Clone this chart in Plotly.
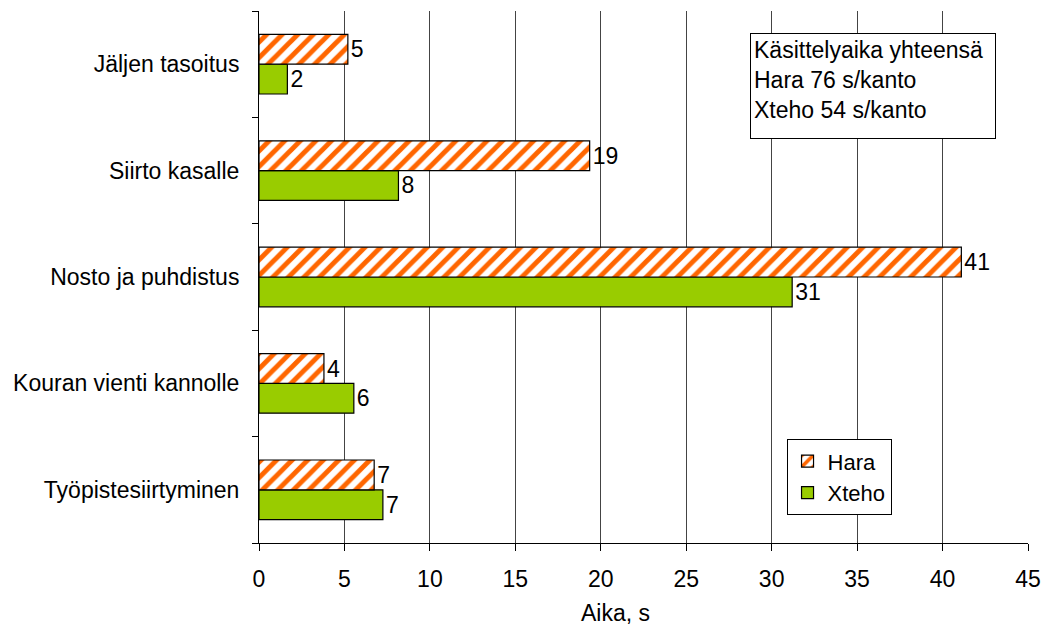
import plotly.graph_objects as go

# work phases, bottom to top as drawn
phases = ["Työpistesiirtyminen", "Kouran vienti kannolle", "Nosto ja puhdistus",
          "Siirto kasalle", "Jäljen tasoitus"]
hara = [6.74, 3.8, 41.1, 19.35, 5.2]
xteho = [7.25, 5.55, 31.2, 8.16, 1.66]
x_ticks = [0, 5, 10, 15, 20, 25, 30, 35, 40, 45]
note_lines = ["Käsittelyaika yhteensä", "Hara 76 s/kanto", "Xteho 54 s/kanto"]

font = dict(family="Liberation Sans, Arial, sans-serif", size=23, color="black")

fig = go.Figure()
fig.add_trace(go.Bar(
    y=phases, x=xteho, name="Xteho", orientation="h",
    marker=dict(color="#99CC00", line=dict(color="black", width=1.2)),
    text=[f"{v:.0f}" for v in xteho], textposition="outside",
    textfont=font, cliponaxis=False, legendrank=2,
))
fig.add_trace(go.Bar(
    y=phases, x=hara, name="Hara", orientation="h",
    marker=dict(color="white", line=dict(color="black", width=1.2),
                pattern=dict(shape="/", fgcolor="#FF6600", bgcolor="white",
                             fgopacity=1, size=11, solidity=0.45)),
    text=[f"{v:.0f}" for v in hara], textposition="outside",
    textfont=font, cliponaxis=False, legendrank=1,
))

fig.update_layout(
    width=1049, height=628,
    margin=dict(l=259, r=21, t=11, b=85),
    paper_bgcolor="white", plot_bgcolor="white",
    font=font,
    barmode="group", bargap=0.44, bargroupgap=0,
    showlegend=True,
    legend=dict(x=0.686, y=0.195, xanchor="left", yanchor="top",
                bordercolor="black", borderwidth=1, bgcolor="white",
                font=dict(font, size=22), tracegroupgap=0, itemwidth=30),
    annotations=[
        dict(text="<br>".join(note_lines), xref="paper", yref="paper",
             x=0.639, y=0.959, xanchor="left", yanchor="top",
             align="left", valign="top", showarrow=False,
             width=238, height=98, bordercolor="black", borderwidth=1,
             borderpad=3, bgcolor="white", font=font),
        dict(text="Aika, s", xref="paper", yref="paper",
             x=0.463, y=-0.132, xanchor="center", yanchor="middle",
             showarrow=False, font=font),
    ],
)
fig.update_xaxes(
    range=[0, 45], tickvals=x_ticks, showgrid=True, gridcolor="#444",
    gridwidth=1, zeroline=False, showline=True, linecolor="black",
    ticks="outside", ticklen=7, tickcolor="black", ticklabelstandoff=8,
    automargin=False,
)
fig.update_yaxes(
    showline=True, linecolor="black", ticks="outside", ticklen=6,
    tickcolor="black", tickson="boundaries", ticklabelstandoff=14,
    showgrid=False, automargin=False,
)

# the page body has a default 8px margin; drop it so the chart sits at 0,0
fig.write_html("out.html", config={"displayModeBar": False},
               post_script="document.body.style.margin='0';")
